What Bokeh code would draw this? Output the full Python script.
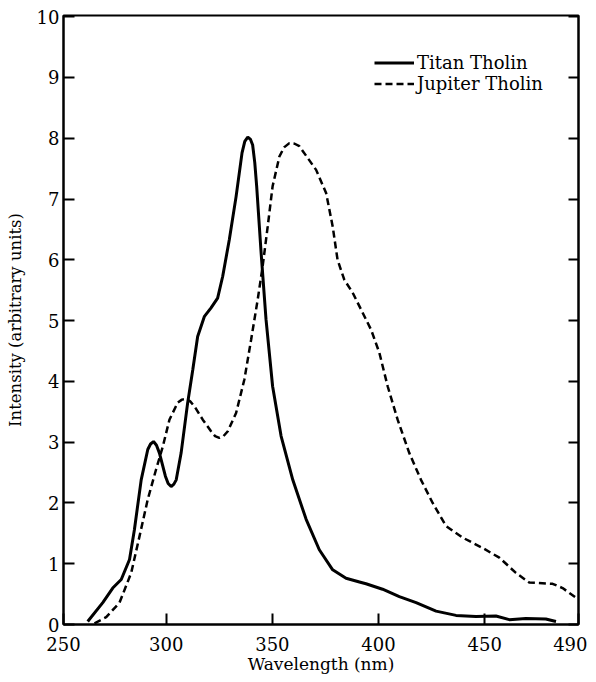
from bokeh.plotting import figure
from bokeh.models import LinearAxis, FixedTicker, Legend, LegendItem, Range1d
from bokeh.embed import file_html
from bokeh.resources import INLINE

# Titan tholin (solid)
titan_nm = [263.0, 270.1, 274.8, 278.8, 282.7, 285.0, 288.2, 291.3, 292.6, 294.0, 295.4, 296.8,
            299.6, 300.9, 302.3, 303.6, 304.7, 307.0, 310.1, 312.5, 314.8, 318.0, 321.1, 324.2,
            326.6, 329.7, 332.9, 335.7, 337.0, 338.4, 339.7, 340.7, 341.7, 342.6, 344.7, 347.0, 350.1,
            354.1, 359.6, 365.9, 372.1, 378.4, 384.7, 391.0, 394.1, 401.9, 409.8,
            417.7, 427.1, 436.5, 445.9, 455.3, 461.6, 469.4, 478.8, 483.6]
titan_int = [0.05, 0.36, 0.60, 0.74, 1.07, 1.56, 2.38, 2.88, 2.97, 3.01, 2.95, 2.82,
             2.44, 2.32, 2.27, 2.31, 2.38, 2.82, 3.65, 4.19, 4.74, 5.07, 5.21, 5.37,
             5.73, 6.33, 7.04, 7.76, 7.95, 8.02, 7.98, 7.89, 7.60, 7.21, 6.11, 5.02, 3.92,
             3.10, 2.38, 1.73, 1.23, 0.90, 0.76, 0.70, 0.67, 0.58, 0.46,
             0.36, 0.22, 0.15, 0.13, 0.14, 0.08, 0.10, 0.09, 0.05]

# Jupiter tholin (dashed)
jupiter_nm = [266.2, 271.7, 278.0, 283.5, 287.4, 291.3, 295.2, 298.4, 301.5, 305.4,
              307.4, 309.4, 311.3, 313.3, 317.2, 321.1, 323.0, 325.0, 327.0, 329.0, 332.9, 336.8, 340.0, 343.1,
              345.4, 347.8, 350.1, 353.3, 355.5, 358.0, 360.5, 362.7, 370.6, 375.3, 378.4, 380.7,
              383.9, 387.8, 391.8, 396.5, 400.4, 404.3, 409.0, 414.5, 420.0, 425.5,
              431.8, 439.6, 449.0, 456.9, 464.7, 471.0, 482.0, 486.7, 493.0]
jupiter_int = [0.02, 0.12, 0.36, 0.85, 1.45, 2.06, 2.55, 2.93, 3.37, 3.65,
               3.70, 3.71, 3.67, 3.59, 3.37, 3.18, 3.10, 3.07, 3.10, 3.18, 3.48, 4.03, 4.69, 5.35,
               5.89, 6.55, 7.21, 7.70, 7.85, 7.92, 7.91, 7.87, 7.48, 7.10, 6.55, 6.00,
               5.67, 5.46, 5.18, 4.85, 4.47, 3.92, 3.37, 2.82, 2.38, 2.00,
               1.62, 1.43, 1.26, 1.10, 0.85, 0.69, 0.67, 0.60, 0.44]

x_start, x_end = 251.6, 494.2
x_ticks = [251.6, 300, 350, 400, 450, 494.2]
x_tick_labels = ["250", "300", "350", "400", "450", "490"]
y_ticks = [0, 1, 2, 3, 4, 5, 6, 7, 8, 9, 10]

FONT = "DejaVu Serif"

p = figure(width=587, height=678, output_backend="svg",
           toolbar_location=None, x_range=Range1d(x_start, x_end),
           y_range=Range1d(0, 10.02),
           min_border_left=63, min_border_top=15, min_border_right=9,
           min_border_bottom=54)
p.grid.visible = False
p.outline_line_color = "black"
p.outline_line_width = 2
p.background_fill_color = "white"
p.border_fill_color = "white"

xa = p.xaxis[0]
xa.ticker = FixedTicker(ticks=x_ticks)
xa.major_label_overrides = {t: s for t, s in zip(x_ticks, x_tick_labels)}
xa.axis_label = "Wavelength (nm)"
ya = p.yaxis[0]
ya.ticker = FixedTicker(ticks=y_ticks)
ya.axis_label = "Intensity (arbitrary units)"

for ax in (xa, ya):
    ax.major_tick_in = 11
    ax.major_tick_out = 0
    ax.minor_tick_line_color = None
    ax.axis_line_width = 2
    ax.major_tick_line_width = 2
    ax.axis_line_color = "black"
    ax.major_tick_line_color = "black"
    ax.major_label_text_font = FONT
    ax.major_label_text_font_size = "18px"
    ax.major_label_text_color = "black"
    ax.axis_label_text_font = FONT
    ax.axis_label_text_font_style = "normal"
    ax.axis_label_text_color = "black"
xa.axis_label_text_font_size = "17px"
ya.axis_label_text_font_size = "16.5px"
xa.major_label_standoff = 12
ya.major_label_standoff = 4
xa.axis_label_standoff = 0
ya.axis_label_standoff = 9

ra = LinearAxis(ticker=FixedTicker(ticks=y_ticks), major_tick_in=10, major_tick_out=0,
                minor_tick_line_color=None, axis_line_width=2, major_tick_line_width=2,
                major_label_overrides={t: "" for t in y_ticks}, major_label_standoff=0)
p.add_layout(ra, "right")

r1 = p.line(titan_nm, titan_int, line_color="black", line_width=3)
r2 = p.line(jupiter_nm, jupiter_int, line_color="black", line_width=2.5, line_dash="7 4")

legend = Legend(items=[LegendItem(label="Titan Tholin", renderers=[r1]),
                       LegendItem(label="Jupiter Tholin", renderers=[r2])],
                location=(311, 530), glyph_width=40, glyph_height=17, label_height=17,
                label_standoff=3, spacing=-5, padding=0, margin=0,
                border_line_color=None, background_fill_alpha=0,
                label_text_font=FONT, label_text_font_size="18px", label_text_color="black")
p.add_layout(legend)

open("out.html", "w").write(file_html(p, INLINE))
